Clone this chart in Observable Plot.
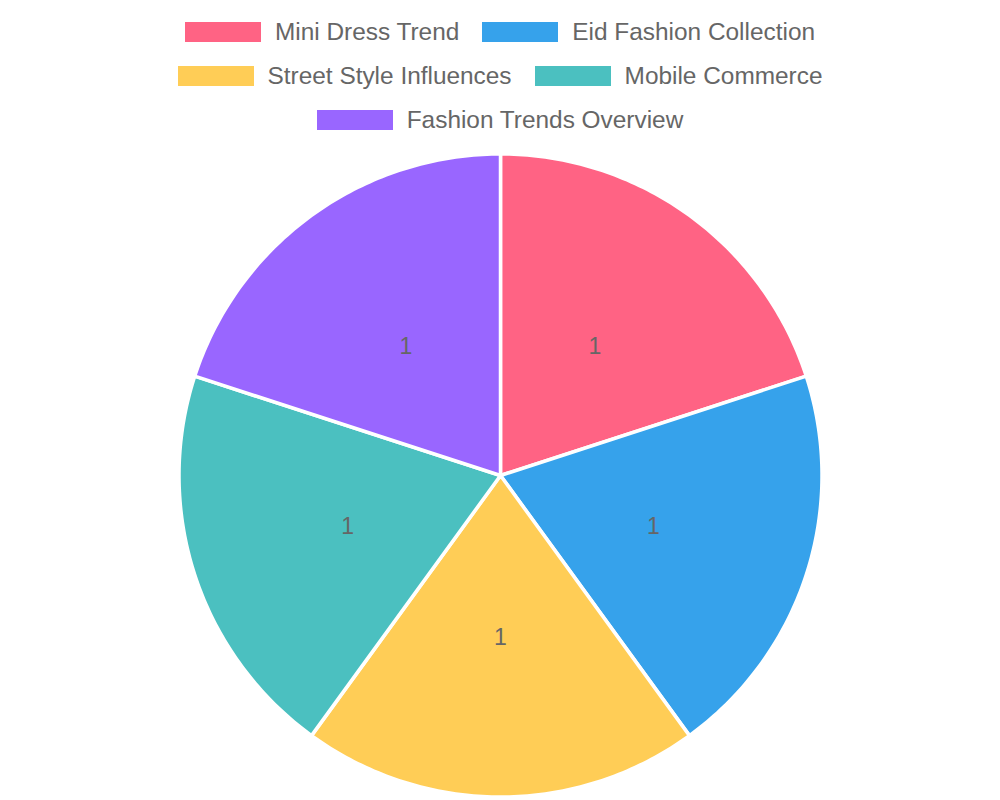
<!DOCTYPE html>
<html><head><meta charset="utf-8">
<script src="https://cdn.jsdelivr.net/npm/d3@7"></script>
<script src="https://cdn.jsdelivr.net/npm/@observablehq/plot@0.6"></script>
<style>
body{margin:0;background:#fff;font-family:"Liberation Sans",Arial,sans-serif;}
#legend{height:150px;box-sizing:border-box;padding-top:10px;width:960px;margin:0 auto;display:flex;flex-wrap:wrap;justify-content:center;column-gap:23px;align-content:flex-start}
.item{display:flex;align-items:center;height:44px;font-size:24.4px;color:#666;white-space:nowrap}
.box{width:76px;height:20px;margin-right:14px}
#chart svg{display:block}
</style></head><body><div id="legend"></div><div id="chart"></div>
<script>
const categories = ["Mini Dress Trend","Eid Fashion Collection","Street Style Influences","Mobile Commerce","Fashion Trends Overview"];
const values = [1,1,1,1,1];
const colors = ["#ff6384","#36a2eb","#ffcd56","#4bc0c0","#9966ff"];

// legend
const legend = document.getElementById("legend");
categories.forEach((c,i)=>{
  const it = document.createElement("div"); it.className="item";
  const b = document.createElement("span"); b.className="box"; b.style.background=colors[i];
  const t = document.createElement("span"); t.textContent=c;
  it.append(b,t); legend.append(it);
});

// pie geometry from data
const arcs = d3.pie().sort(null)(values).map((a,i)=>({...a, category: categories[i]}));
const features = arcs.map(a=>{
  const n = 90;
  const ring = [[0,0]];
  for (let k=0;k<=n;k++){
    const t = a.startAngle + (a.endAngle-a.startAngle)*k/n;
    ring.push([Math.sin(t), -Math.cos(t)]);
  }
  ring.push([0,0]);
  return {type:"Feature", properties:{category:a.category, value:a.value}, geometry:{type:"Polygon", coordinates:[ring]}};
});
const labels = arcs.map(a=>{
  const m = (a.startAngle+a.endAngle)/2;
  return {x: 0.5*Math.sin(m), y: -0.5*Math.cos(m), text: String(a.value)};
});

const chart = Plot.plot({
  width: 1000,
  height: 650,
  margin: 0,
  projection: {type: () => d3.geoIdentity(), domain: {type:"MultiPoint", coordinates:[[-1,-1],[1,1]]}, inset: 3.5},
  color: {domain: categories, range: colors},
  marks: [
    Plot.geo(features, {fill: d=>d.properties.category, stroke:"white", strokeWidth:3.5, strokeLinejoin:"round"}),
    Plot.text(labels, {x:"x", y:"y", text:"text", dy:1.5, fill:"#666", fontSize:23, fontFamily:"Liberation Sans, Arial, sans-serif"})
  ]
});
document.getElementById("chart").append(chart);
</script>
</body></html>
